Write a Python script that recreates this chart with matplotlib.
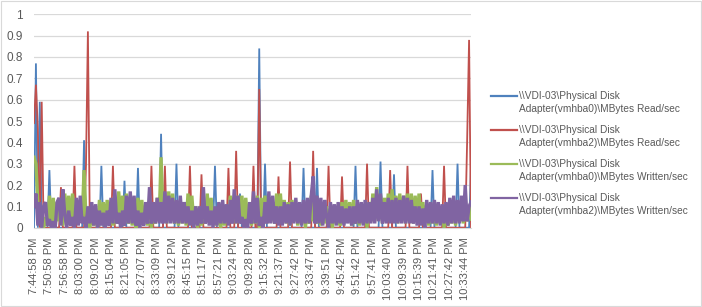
import matplotlib
matplotlib.use("Agg")
import matplotlib.pyplot as plt
from matplotlib.lines import Line2D
from matplotlib.patches import Rectangle

plt.rcParams['font.family'] = ['Liberation Sans', 'DejaVu Sans']

# 横轴标签（每 8 个采样点一个）
time_labels = ["7:44:58 PM", "7:50:58 PM", "7:56:58 PM", "8:03:00 PM", "8:09:02 PM",
               "8:15:04 PM", "8:21:05 PM", "8:27:07 PM", "8:33:09 PM", "8:39:12 PM",
               "8:45:15 PM", "8:51:17 PM", "8:57:21 PM", "9:03:24 PM", "9:09:28 PM",
               "9:15:32 PM", "9:21:37 PM", "9:27:42 PM", "9:33:47 PM", "9:39:51 PM",
               "9:45:42 PM", "9:51:42 PM", "9:57:41 PM", "10:03:40 PM", "10:09:39 PM",
               "10:15:39 PM", "10:21:41 PM", "10:27:42 PM", "10:33:44 PM"]
label_step = 8

series_names = [
    "\\\\VDI-03\\Physical Disk\nAdapter(vmhba0)\\MBytes Read/sec",
    "\\\\VDI-03\\Physical Disk\nAdapter(vmhba2)\\MBytes Read/sec",
    "\\\\VDI-03\\Physical Disk\nAdapter(vmhba0)\\MBytes Written/sec",
    "\\\\VDI-03\\Physical Disk\nAdapter(vmhba2)\\MBytes Written/sec",
]

read_hba0 = [
    0, 0.77, 0, 0.59, 0, 0, 0, 0,
    0.27, 0, 0, 0, 0, 0, 0, 0,
    0, 0, 0, 0, 0, 0, 0, 0,
    0, 0, 0.41, 0, 0, 0, 0, 0,
    0, 0, 0, 0.29, 0, 0, 0, 0,
    0, 0, 0, 0, 0, 0, 0, 0.22,
    0, 0, 0, 0, 0, 0, 0.28, 0,
    0, 0, 0, 0, 0, 0, 0, 0,
    0, 0, 0.44, 0, 0, 0, 0, 0,
    0, 0, 0.30, 0, 0, 0, 0, 0,
    0, 0, 0, 0, 0, 0, 0, 0,
    0, 0, 0, 0, 0, 0, 0.29, 0,
    0, 0, 0, 0, 0, 0, 0, 0,
    0, 0, 0, 0.16, 0, 0, 0, 0,
    0, 0, 0, 0, 0, 0.84, 0, 0,
    0.30, 0, 0, 0, 0, 0, 0, 0,
    0, 0, 0, 0, 0, 0, 0, 0,
    0, 0, 0, 0, 0.28, 0, 0, 0,
    0, 0, 0, 0.28, 0, 0, 0, 0,
    0, 0, 0, 0, 0, 0, 0, 0,
    0, 0, 0, 0, 0, 0, 0, 0.29,
    0, 0, 0, 0, 0, 0, 0, 0,
    0, 0, 0, 0, 0.31, 0, 0, 0,
    0, 0, 0, 0.25, 0, 0, 0, 0,
    0, 0, 0, 0, 0, 0, 0, 0,
    0, 0, 0, 0, 0, 0, 0, 0.27,
    0, 0, 0, 0, 0, 0, 0, 0,
    0, 0, 0, 0, 0.30, 0, 0, 0,
    0, 0, 0, 0.29,
]

read_hba2 = [
    0.49, 0.67, 0.46, 0, 0.59, 0, 0, 0,
    0, 0, 0, 0, 0, 0, 0.19, 0,
    0, 0, 0, 0, 0, 0.29, 0, 0,
    0, 0, 0, 0.29, 0.92, 0, 0, 0,
    0, 0, 0, 0, 0, 0, 0, 0,
    0, 0.29, 0, 0, 0, 0, 0, 0,
    0, 0, 0, 0, 0, 0, 0, 0,
    0, 0, 0, 0, 0, 0.29, 0, 0,
    0, 0, 0, 0, 0.29, 0, 0, 0,
    0, 0, 0, 0, 0, 0, 0, 0,
    0, 0.29, 0, 0, 0, 0, 0, 0.25,
    0, 0, 0, 0, 0, 0, 0, 0,
    0, 0, 0, 0, 0, 0.28, 0, 0,
    0, 0.36, 0, 0, 0, 0, 0, 0,
    0, 0, 0.29, 0, 0, 0.65, 0, 0,
    0, 0, 0, 0, 0, 0, 0, 0.24,
    0, 0, 0, 0, 0, 0.31, 0, 0,
    0, 0, 0, 0, 0, 0, 0, 0,
    0, 0.36, 0, 0, 0, 0, 0, 0,
    0, 0.29, 0, 0, 0, 0, 0, 0,
    0.24, 0, 0, 0, 0, 0, 0, 0,
    0, 0, 0, 0, 0, 0.30, 0, 0,
    0, 0, 0, 0, 0, 0, 0, 0,
    0, 0.27, 0, 0, 0, 0, 0, 0,
    0, 0, 0.29, 0, 0, 0, 0, 0,
    0, 0.16, 0, 0, 0, 0, 0, 0,
    0, 0, 0, 0, 0, 0.29, 0, 0,
    0, 0, 0, 0, 0, 0, 0, 0,
    0, 0.41, 0.88, 0,
]

written_hba0 = [
    0.33, 0.30, 0.12, 0.02, 0.06, 0.00, 0.05, 0.01,
    0.15, 0.02, 0.14, 0.00, 0.12, 0.03, 0.13, 0.01,
    0.16, 0.03, 0.15, 0.01, 0.16, 0.04, 0.13, 0.02,
    0.12, 0.03, 0.27, 0.04, 0.08, 0.00, 0.07, 0.01,
    0.08, 0.00, 0.13, 0.02, 0.12, 0.01, 0.13, 0.03,
    0.10, 0.01, 0.09, 0.02, 0.17, 0.04, 0.15, 0.03,
    0.16, 0.02, 0.10, 0.01, 0.09, 0.00, 0.14, 0.03,
    0.13, 0.02, 0.10, 0.01, 0.09, 0.00, 0.10, 0.02,
    0.14, 0.03, 0.33, 0.04, 0.14, 0.02, 0.17, 0.03,
    0.16, 0.02, 0.12, 0.01, 0.11, 0.02, 0.12, 0.01,
    0.16, 0.03, 0.15, 0.02, 0.10, 0.00, 0.09, 0.01,
    0.10, 0.02, 0.16, 0.03, 0.14, 0.02, 0.09, 0.01,
    0.09, 0.00, 0.08, 0.01, 0.09, 0.02, 0.15, 0.03,
    0.14, 0.02, 0.15, 0.04, 0.15, 0.01, 0.14, 0.03,
    0.10, 0.01, 0.09, 0.02, 0.15, 0.00, 0.14, 0.03,
    0.15, 0.02, 0.14, 0.03, 0.12, 0.02, 0.16, 0.04,
    0.16, 0.03, 0.13, 0.02, 0.12, 0.01, 0.13, 0.03,
    0.10, 0.01, 0.09, 0.02, 0.10, 0.00, 0.09, 0.02,
    0.15, 0.03, 0.14, 0.02, 0.10, 0.01, 0.09, 0.02,
    0.10, 0.01, 0.09, 0.00, 0.10, 0.02, 0.09, 0.01,
    0.12, 0.02, 0.13, 0.03, 0.12, 0.01, 0.13, 0.02,
    0.10, 0.01, 0.09, 0.02, 0.10, 0.00, 0.12, 0.03,
    0.16, 0.03, 0.19, 0.04, 0.15, 0.02, 0.14, 0.03,
    0.16, 0.03, 0.18, 0.04, 0.15, 0.02, 0.16, 0.03,
    0.15, 0.02, 0.16, 0.03, 0.16, 0.02, 0.15, 0.03,
    0.16, 0.03, 0.12, 0.02, 0.11, 0.01, 0.12, 0.02,
    0.10, 0.01, 0.09, 0.02, 0.10, 0.00, 0.09, 0.01,
    0.12, 0.02, 0.11, 0.01, 0.12, 0.03, 0.12, 0.02,
    0.12, 0.03, 0.10, 0.04,
]

written_hba2 = [
    0.10, 0.16, 0.01, 0.12, 0.00, 0.10, 0.12, 0.01,
    0.04, 0.00, 0.03, 0.00, 0.12, 0.14, 0.01, 0.18,
    0.06, 0.00, 0.08, 0.01, 0.05, 0.00, 0.14, 0.01,
    0.15, 0.02, 0.05, 0.00, 0.10, 0.02, 0.12, 0.01,
    0.11, 0.00, 0.08, 0.01, 0.07, 0.00, 0.08, 0.01,
    0.14, 0.02, 0.18, 0.02, 0.07, 0.00, 0.08, 0.01,
    0.15, 0.02, 0.17, 0.02, 0.15, 0.01, 0.08, 0.00,
    0.07, 0.01, 0.12, 0.02, 0.19, 0.02, 0.12, 0.02,
    0.14, 0.02, 0.12, 0.02, 0.17, 0.02, 0.15, 0.02,
    0.14, 0.02, 0.13, 0.02, 0.15, 0.02, 0.12, 0.02,
    0.10, 0.01, 0.08, 0.00, 0.10, 0.01, 0.10, 0.02,
    0.19, 0.02, 0.10, 0.01, 0.08, 0.00, 0.10, 0.01,
    0.12, 0.02, 0.13, 0.02, 0.11, 0.01, 0.13, 0.02,
    0.18, 0.02, 0.15, 0.02, 0.05, 0.00, 0.04, 0.00,
    0.12, 0.02, 0.17, 0.02, 0.14, 0.01, 0.05, 0.00,
    0.12, 0.02, 0.17, 0.02, 0.15, 0.02, 0.10, 0.01,
    0.10, 0.01, 0.12, 0.02, 0.11, 0.01, 0.12, 0.02,
    0.14, 0.02, 0.12, 0.01, 0.13, 0.02, 0.14, 0.02,
    0.15, 0.24, 0.02, 0.15, 0.02, 0.14, 0.01, 0.13,
    0.05, 0.00, 0.12, 0.02, 0.11, 0.01, 0.12, 0.02,
    0.10, 0.01, 0.09, 0.02, 0.10, 0.01, 0.10, 0.02,
    0.13, 0.02, 0.12, 0.01, 0.13, 0.02, 0.12, 0.02,
    0.14, 0.02, 0.18, 0.03, 0.16, 0.02, 0.12, 0.02,
    0.14, 0.02, 0.13, 0.02, 0.14, 0.02, 0.13, 0.02,
    0.15, 0.02, 0.14, 0.02, 0.13, 0.02, 0.10, 0.01,
    0.10, 0.01, 0.09, 0.00, 0.13, 0.02, 0.12, 0.02,
    0.13, 0.02, 0.12, 0.01, 0.11, 0.02, 0.12, 0.01,
    0.14, 0.02, 0.15, 0.02, 0.13, 0.02, 0.15, 0.03,
    0.20, 0.03, 0.10, 0.12,
]

colors = ["#4F81BD", "#C0504D", "#9BBB59", "#8064A2"]
widths = [1.3, 1.3, 2.4, 2.4]
text_gray = "#595959"

fig = plt.figure(figsize=(7.02, 3.07), dpi=100)
ax = fig.add_axes([34 / 702, 79.3 / 307, 437 / 702, 213.4 / 307])

all_series = [read_hba0, read_hba2, written_hba0, written_hba2]
for vals, c, w in zip(all_series, colors, widths):
    ax.plot(range(len(vals)), vals, color=c, lw=w, solid_joinstyle="miter")

ax.set_xlim(0, len(written_hba2) - 1)
ax.set_ylim(0, 1)
ax.set_yticks([i / 10 for i in range(11)])
ax.set_yticklabels(["0", "0.1", "0.2", "0.3", "0.4", "0.5", "0.6", "0.7", "0.8", "0.9", "1"])
ax.set_xticks(range(0, len(time_labels) * label_step, label_step))
ax.set_xticklabels(time_labels, rotation=90)
ax.tick_params(axis="y", length=0, pad=8, labelsize=8.5, labelcolor=text_gray)
ax.tick_params(axis="x", length=0, pad=7, labelsize=8, labelcolor=text_gray)
ax.grid(axis="y", color="#D9D9D9", lw=0.9)
ax.set_axisbelow(True)
for s in ["left", "right", "top"]:
    ax.spines[s].set_visible(False)
ax.spines["bottom"].set_color("#D9D9D9")

# 手动图例
legend_y = [96, 130, 164, 198]
for name, c, y in zip(series_names, colors, legend_y):
    fy = 1 - y / 307
    fig.add_artist(Line2D([491 / 702, 517 / 702], [fy, fy], color=c, lw=1.6))
    first, second = name.split("\n")
    fig.text(519 / 702, fy, first, fontsize=7.3, color=text_gray, va="center")
    fig.text(519 / 702, fy - 13 / 307, second, fontsize=7.3, color=text_gray, va="center")

fig.add_artist(Rectangle((0.001, 0.004), 0.997, 0.992, transform=fig.transFigure,
                         fill=False, ec="#D9D9D9", lw=0.8))

fig.savefig("out.png", dpi=100)
